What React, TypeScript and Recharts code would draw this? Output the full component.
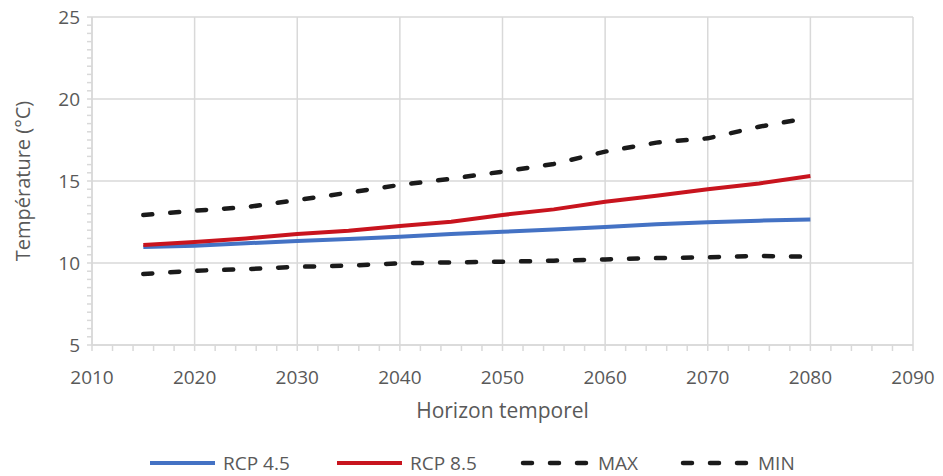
import {
  LineChart,
  Line,
  XAxis,
  YAxis,
  CartesianGrid,
  Legend,
} from "recharts";

const years = [2015, 2020, 2025, 2030, 2035, 2040, 2045, 2050, 2055, 2060, 2065, 2070, 2075, 2080];
const rcp45 = [10.97, 11.05, 11.2, 11.34, 11.46, 11.6, 11.77, 11.9, 12.05, 12.2, 12.36, 12.48, 12.58, 12.65];
const rcp85 = [11.1, 11.28, 11.5, 11.77, 11.97, 12.26, 12.52, 12.93, 13.27, 13.74, 14.1, 14.5, 14.85, 15.3];
const maxT = [12.92, 13.19, 13.4, 13.84, 14.29, 14.76, 15.14, 15.57, 16.04, 16.79, 17.34, 17.6, 18.31, 18.87];
const minT = [9.33, 9.53, 9.62, 9.77, 9.84, 9.98, 10.04, 10.08, 10.14, 10.22, 10.3, 10.35, 10.43, 10.38];

const xMajor = [2010, 2020, 2030, 2040, 2050, 2060, 2070, 2080, 2090];
const yMajor = [5, 10, 15, 20, 25];

// minor tick marks (every 2 years / every 0.5 °C), labels only on majors
const xMinor: number[] = [];
for (let y = 2010; y <= 2090; y += 2) xMinor.push(y);
const yMinor: number[] = [];
for (let v = 5; v <= 25.001; v += 0.5) yMinor.push(Math.round(v * 10) / 10);

const data = years.map((year, i) => ({
  year,
  rcp45: rcp45[i],
  rcp85: rcp85[i],
  max: maxT[i],
  min: minT[i],
}));

const FONT = "'Open Sans', sans-serif";
const TEXT = "#595959";
const GRID = "#d9d9d9";

const XTick = ({ x, y, payload }: any) =>
  payload.value % 10 === 0 ? (
    <text x={x} y={y + 31} textAnchor="middle" fill={TEXT} fontSize={19} fontFamily={FONT}>
      {payload.value}
    </text>
  ) : null;

const YTick = ({ x, y, payload }: any) =>
  payload.value % 5 === 0 ? (
    <text x={x - 5} y={y + 7} textAnchor="end" fill={TEXT} fontSize={19} fontFamily={FONT}>
      {payload.value}
    </text>
  ) : null;

const legendItems = [
  { name: "RCP 4.5", color: "#4472C4", dashed: false },
  { name: "RCP 8.5", color: "#C8141E", dashed: false },
  { name: "MAX", color: "#1a1a1a", dashed: true },
  { name: "MIN", color: "#1a1a1a", dashed: true },
];
const legendX = [150, 337, 520, 680];

const renderLegend = () => (
  <svg width={943} height={30} style={{ display: "block" }}>
    {legendItems.map((it, i) => {
      const x0 = legendX[i];
      return (
        <g key={it.name}>
          {it.dashed ? (
            <line x1={x0 + 3} y1={15} x2={x0 + 73} y2={15} stroke={it.color} strokeWidth={4.5}
              strokeDasharray="9 18" strokeLinecap="round" />
          ) : (
            <line x1={x0} y1={15} x2={x0 + 65} y2={15} stroke={it.color} strokeWidth={4} />
          )}
          <text x={x0 + (it.dashed ? 78 : 73)} y={22} fill={TEXT} fontSize={19} fontFamily={FONT}>
            {it.name}
          </text>
        </g>
      );
    })}
  </svg>
);

export default function App() {
  return (
    <div style={{ position: "absolute", left: 0, top: 0, width: 943, height: 476, background: "#fff" }}>
      <LineChart width={943} height={476} data={data} margin={{ top: 17, right: 30, bottom: 0, left: 0 }}>
        <CartesianGrid stroke={GRID} strokeWidth={1.5} horizontalValues={yMajor} verticalValues={xMajor} />
        <XAxis
          dataKey="year"
          type="number"
          domain={[2010, 2090]}
          ticks={xMinor}
          interval={0}
          height={131}
          stroke={GRID}
          strokeWidth={1.5}
          tickSize={6}
          tick={<XTick />}
          label={{ value: "Horizon temporel", position: "insideTop", offset: 58, fill: TEXT, fontSize: 21, fontFamily: FONT }}
        />
        <YAxis
          type="number"
          domain={[5, 25]}
          ticks={yMinor}
          interval={0}
          width={92}
          stroke={GRID}
          strokeWidth={1.5}
          tickSize={5}
          tick={<YTick />}
          label={{ value: "Température (°C)", angle: -90, position: "insideLeft", offset: 23, fill: TEXT, fontSize: 20, fontFamily: FONT, style: { textAnchor: "middle" } }}
        />
        <Legend
          content={renderLegend}
          wrapperStyle={{ position: "absolute", left: 0, top: 448, width: 943, height: 0 }}
        />
        <Line type="linear" dataKey="rcp45" name="RCP 4.5" stroke="#4472C4" strokeWidth={4} dot={false} isAnimationActive={false} />
        <Line type="linear" dataKey="rcp85" name="RCP 8.5" stroke="#C8141E" strokeWidth={4} dot={false} isAnimationActive={false} />
        <Line type="linear" dataKey="max" name="MAX" stroke="#1a1a1a" strokeWidth={4.5} strokeDasharray="9 18" strokeLinecap="round" dot={false} isAnimationActive={false} />
        <Line type="linear" dataKey="min" name="MIN" stroke="#1a1a1a" strokeWidth={4.5} strokeDasharray="9 18" strokeLinecap="round" dot={false} isAnimationActive={false} />
      </LineChart>
    </div>
  );
}
